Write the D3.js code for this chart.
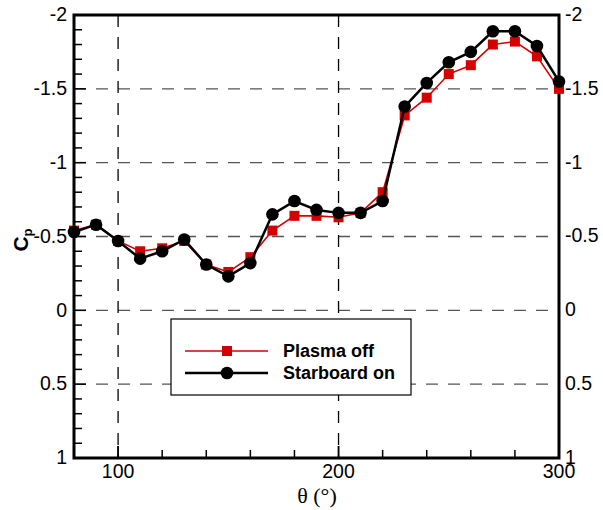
<!DOCTYPE html>
<html><head><meta charset="utf-8">
<script src="https://cdn.jsdelivr.net/npm/d3@7"></script>
<style>body{margin:0;background:#fff}svg{display:block}</style>
</head><body>
<svg id="c" width="603" height="510"></svg>
<script>
const theta = [80,90,100,110,120,130,140,150,160,170,180,190,200,210,220,230,240,250,260,270,280,290,300];
const plasmaOff = [-0.54,-0.58,-0.47,-0.40,-0.42,-0.47,-0.31,-0.26,-0.36,-0.54,-0.64,-0.64,-0.63,-0.66,-0.80,-1.32,-1.44,-1.60,-1.66,-1.80,-1.82,-1.72,-1.50];
const starboardOn = [-0.53,-0.58,-0.47,-0.35,-0.40,-0.48,-0.31,-0.23,-0.32,-0.65,-0.74,-0.68,-0.66,-0.66,-0.74,-1.38,-1.54,-1.68,-1.75,-1.89,-1.89,-1.79,-1.55];
const yTicks = [-2,-1.5,-1,-0.5,0,0.5,1];
const yTickLabels = ["-2","-1.5","-1","-0.5","0","0.5","1"];
const xTicks = [100,200,300];
const xTickLabels = ["100","200","300"];
const seriesNames = ["Plasma off","Starboard on"];

const svg = d3.select("#c");
const L=74,R=559,T=15,B=458;
const x = d3.scaleLinear().domain([80,300]).range([L,R]);
const y = d3.scaleLinear().domain([-2,1]).range([T,B]);
const font = "'Liberation Sans', Arial, sans-serif";

// grid
const g = svg.append("g");
g.selectAll(".hg").data([-1.5,-1,-0.5,0,0.5]).join("line")
  .attr("x1",L).attr("x2",R).attr("y1",d=>y(d)).attr("y2",d=>y(d))
  .attr("stroke","#555").attr("stroke-width",1.3).attr("stroke-dasharray","12,10");
g.selectAll(".vg").data([100,200]).join("line")
  .attr("y1",T).attr("y2",B).attr("x1",d=>x(d)).attr("x2",d=>x(d))
  .attr("stroke","#000").attr("stroke-width",1.3).attr("stroke-dasharray","12,10");

// ticks inward
const yMinor = d3.range(-2,1.0001,0.1).map(v=>+v.toFixed(2));
svg.selectAll(".ymt").data(yMinor).join("line")
  .attr("x1",L).attr("x2",d=>L+(Math.abs(Math.round(d*2)-d*2)<1e-6?12:8))
  .attr("y1",d=>y(d)).attr("y2",d=>y(d)).attr("stroke","#000").attr("stroke-width",1.5);
const xMinor = d3.range(80,301,20);
svg.selectAll(".xmt").data(xMinor.concat([100,200])).join("line")
  .attr("x1",d=>x(d)).attr("x2",d=>x(d)).attr("y1",B)
  .attr("y2",d=>B-(d%100===0?12:8)).attr("stroke","#000").attr("stroke-width",1.5);

// frame
svg.append("rect").attr("x",L).attr("y",T).attr("width",R-L).attr("height",B-T)
  .attr("fill","none").attr("stroke","#000").attr("stroke-width",3);

// tick labels
svg.selectAll(".yl").data(yTicks).join("text")
  .attr("x",L-7).attr("y",d=>y(d)).attr("dy","0.32em").attr("text-anchor","end")
  .attr("font-family",font).attr("font-size",19.5).text((d,i)=>yTickLabels[i]);
svg.selectAll(".yr").data(yTicks).join("text")
  .attr("x",R+6).attr("y",d=>y(d)).attr("dy","0.3em").attr("text-anchor","start")
  .attr("font-family",font).attr("font-size",19.5).text((d,i)=>yTickLabels[i]);
svg.selectAll(".xl").data(xTicks).join("text")
  .attr("x",d=>x(d)).attr("y",478).attr("text-anchor","middle")
  .attr("font-family",font).attr("font-size",19.5).text((d,i)=>xTickLabels[i]);

// titles
svg.append("text").attr("x",317).attr("y",503).attr("text-anchor","middle")
  .attr("font-family","'Liberation Serif', 'Times New Roman', serif").attr("font-size",22).text("θ (°)");
const yt = svg.append("text").attr("transform","translate(28,240) rotate(-90)")
  .attr("text-anchor","middle").attr("font-family",font).attr("font-weight","bold").attr("font-size",21);
yt.append("tspan").text("C");
yt.append("tspan").attr("font-size",13).attr("dy",4).text("p");

// series
const line = d3.line().x(d=>x(d[0])).y(d=>y(d[1]));
const red = "#d40000";
const ptsRed = theta.map((t,i)=>[t,plasmaOff[i]]);
const ptsBlk = theta.map((t,i)=>[t,starboardOn[i]]);
svg.append("path").datum(ptsRed).attr("d",line).attr("fill","none").attr("stroke",red).attr("stroke-width",1.6);
svg.selectAll(".sq").data(ptsRed).join("rect")
  .attr("x",d=>x(d[0])-5).attr("y",d=>y(d[1])-5).attr("width",10).attr("height",10).attr("fill",red);
svg.append("path").datum(ptsBlk).attr("d",line).attr("fill","none").attr("stroke","#000").attr("stroke-width",2.5);
svg.selectAll(".ci").data(ptsBlk).join("circle")
  .attr("cx",d=>x(d[0])).attr("cy",d=>y(d[1])).attr("r",6.3).attr("fill","#000");

// legend
const lg = svg.append("g");
lg.append("rect").attr("x",171).attr("y",319).attr("width",240).attr("height",76)
  .attr("fill","#fff").attr("stroke","#000").attr("stroke-width",1.2);
const ly = [351,373];
lg.append("line").attr("x1",185).attr("x2",268).attr("y1",ly[0]).attr("y2",ly[0]).attr("stroke",red).attr("stroke-width",1.6);
lg.append("rect").attr("x",222).attr("y",ly[0]-5).attr("width",10).attr("height",10).attr("fill",red);
lg.append("line").attr("x1",185).attr("x2",268).attr("y1",ly[1]).attr("y2",ly[1]).attr("stroke","#000").attr("stroke-width",2.5);
lg.append("circle").attr("cx",227).attr("cy",ly[1]).attr("r",6.3).attr("fill","#000");
lg.selectAll(".lt").data(seriesNames).join("text")
  .attr("x",283).attr("y",(d,i)=>ly[i]).attr("dy","0.36em")
  .attr("font-family",font).attr("font-weight","bold").attr("font-size",18).text(d=>d);
</script>
</body></html>
